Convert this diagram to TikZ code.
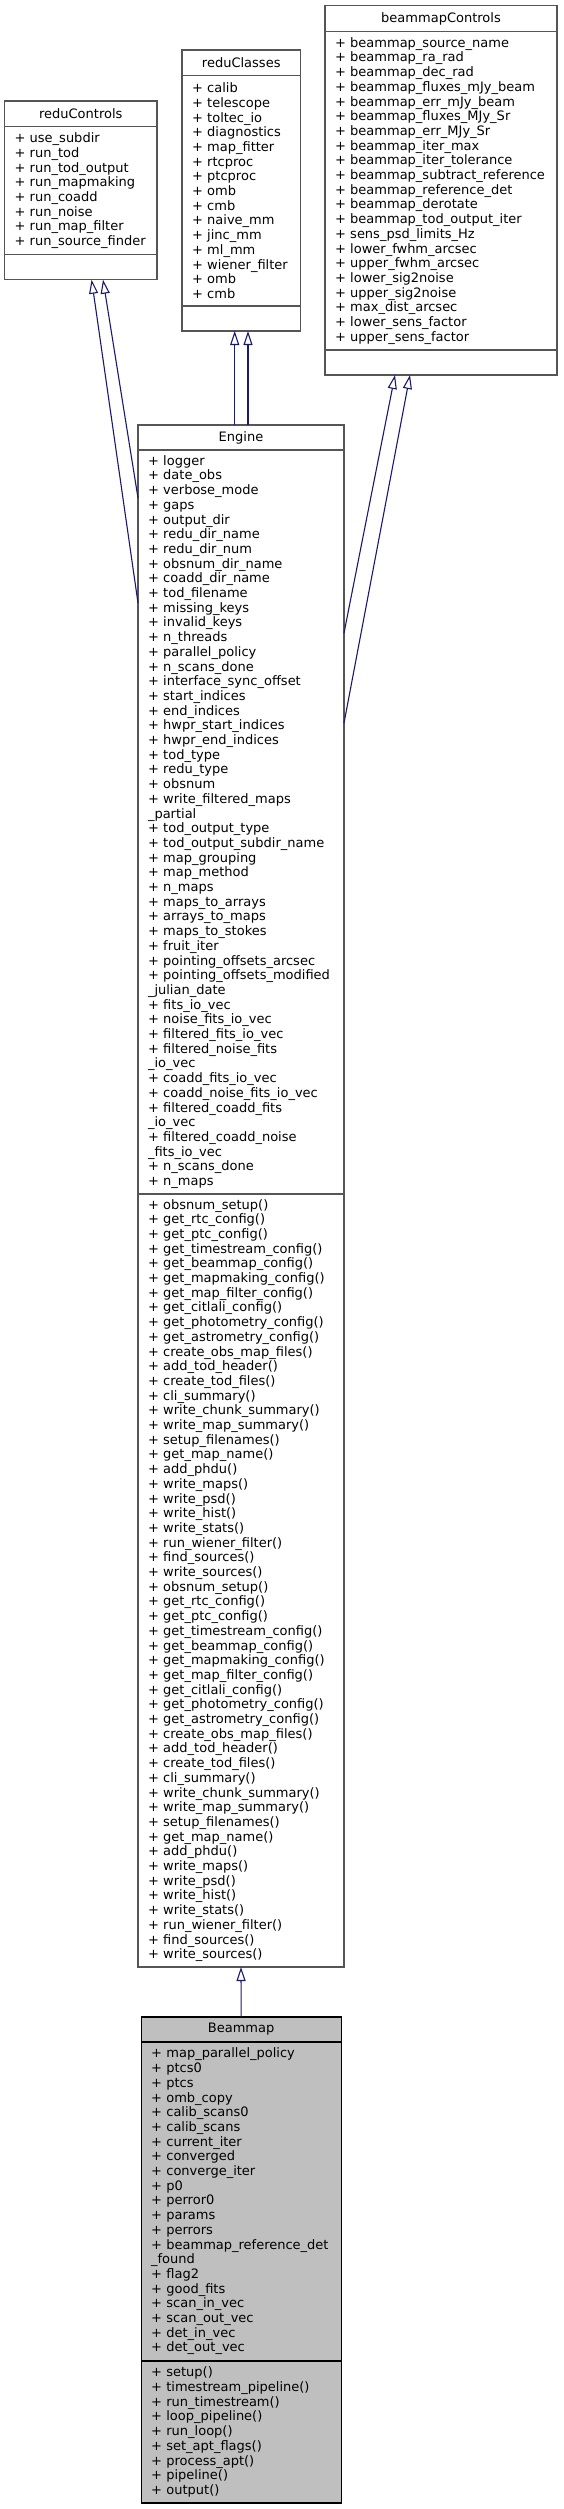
\documentclass[tikz,border=0pt]{standalone}
\usepackage{fontspec}
\setmainfont{DejaVu Sans}
\usepackage{tikz}
\usetikzlibrary{arrows.meta,positioning,calc}
\definecolor{edgeblue}{HTML}{191970}
\definecolor{boxline}{HTML}{555555}
\definecolor{mainfill}{HTML}{BFBFBF}
\newcommand\engmethods{+ obsnum\_setup()\\+ get\_rtc\_config()\\+ get\_ptc\_config()\\+ get\_timestream\_config()\\+ get\_beammap\_config()\\+ get\_mapmaking\_config()\\+ get\_map\_filter\_config()\\+ get\_citlali\_config()\\+ get\_photometry\_config()\\+ get\_astrometry\_config()\\+ create\_obs\_map\_files()\\+ add\_tod\_header()\\+ create\_tod\_files()\\+ cli\_summary()\\+ write\_chunk\_summary()\\+ write\_map\_summary()\\+ setup\_filenames()\\+ get\_map\_name()\\+ add\_phdu()\\+ write\_maps()\\+ write\_psd()\\+ write\_hist()\\+ write\_stats()\\+ run\_wiener\_filter()\\+ find\_sources()\\+ write\_sources()}

\begin{document}
\begin{tikzpicture}[x=1pt, y=-1pt, >={Triangle[open,length=14pt,width=9pt]},
                node distance=0pt,
                every node/.style={font=\fontsize{13}{14.7}\selectfont, outer sep=0pt},
                class head/.style={draw=boxline, line width=1.1pt, fill=white, anchor=north, inner sep=0pt, minimum height=25pt},
                members/.style={draw=boxline, line width=1.1pt, fill=white, align=left, inner xsep=10pt, inner ysep=0pt},
                main class/.style={draw=black, fill=mainfill},
                inherit/.style={->, draw=edgeblue, line width=1.1pt}]

  \useasboundingbox (0,0) rectangle (563,2509);

  \node[class head, minimum width=152.5pt, minimum height=25.7pt] (ctrl) at (80.75,101) {reduControls};
  \node[members, text width=132.5pt, minimum height=128pt, below=of ctrl] (ctrlA)
    {+ use\_subdir\\+ run\_tod\\+ run\_tod\_output\\+ run\_mapmaking\\+ run\_coadd\\+ run\_noise\\+ run\_map\_filter\\+ run\_source\_finder};
  \node[members, text width=132.5pt, minimum height=25pt, below=of ctrlA] (ctrlM) {};

  \node[class head, minimum width=118.5pt, minimum height=25.3pt] (cls) at (241.25,50) {reduClasses};
  \node[members, text width=98.5pt, minimum height=230.7pt, below=of cls] (clsA)
    {+ calib\\+ telescope\\+ toltec\_io\\+ diagnostics\\+ map\_fitter\\+ rtcproc\\+ ptcproc\\+ omb\\+ cmb\\+ naive\_mm\\+ jinc\_mm\\+ ml\_mm\\+ wiener\_filter\\+ omb\\+ cmb};
  \node[members, text width=98.5pt, minimum height=25pt, below=of clsA] (clsM) {};

  \node[class head, minimum width=232pt, minimum height=26pt] (bmc) at (441,5.7) {beammapControls};
  \node[members, text width=212pt, minimum height=318.3pt, below=of bmc] (bmcA)
    {+ beammap\_source\_name\\+ beammap\_ra\_rad\\+ beammap\_dec\_rad\\+ beammap\_fluxes\_mJy\_beam\\+ beammap\_err\_mJy\_beam\\+ beammap\_fluxes\_MJy\_Sr\\+ beammap\_err\_MJy\_Sr\\+ beammap\_iter\_max\\+ beammap\_iter\_tolerance\\+ beammap\_subtract\_reference\\+ beammap\_reference\_det\\+ beammap\_derotate\\+ beammap\_tod\_output\_iter\\+ sens\_psd\_limits\_Hz\\+ lower\_fwhm\_arcsec\\+ upper\_fwhm\_arcsec\\+ lower\_sig2noise\\+ upper\_sig2noise\\+ max\_dist\_arcsec\\+ lower\_sens\_factor\\+ upper\_sens\_factor};
  \node[members, text width=212pt, minimum height=25pt, below=of bmcA] (bmcM) {};

  \node[class head, minimum width=206pt] (eng) at (241,425) {Engine};
  \node[members, text width=186pt, minimum height=744pt, below=of eng] (engA)
    {+ logger\\+ date\_obs\\+ verbose\_mode\\+ gaps\\+ output\_dir\\+ redu\_dir\_name\\+ redu\_dir\_num\\+ obsnum\_dir\_name\\+ coadd\_dir\_name\\+ tod\_filename\\+ missing\_keys\\+ invalid\_keys\\+ n\_threads\\+ parallel\_policy\\+ n\_scans\_done\\+ interface\_sync\_offset\\+ start\_indices\\+ end\_indices\\+ hwpr\_start\_indices\\+ hwpr\_end\_indices\\+ tod\_type\\+ redu\_type\\+ obsnum\\+ write\_filtered\_maps\\\_partial\\+ tod\_output\_type\\+ tod\_output\_subdir\_name\\+ map\_grouping\\+ map\_method\\+ n\_maps\\+ maps\_to\_arrays\\+ arrays\_to\_maps\\+ maps\_to\_stokes\\+ fruit\_iter\\+ pointing\_offsets\_arcsec\\+ pointing\_offsets\_modified\\\_julian\_date\\+ fits\_io\_vec\\+ noise\_fits\_io\_vec\\+ filtered\_fits\_io\_vec\\+ filtered\_noise\_fits\\\_io\_vec\\+ coadd\_fits\_io\_vec\\+ coadd\_noise\_fits\_io\_vec\\+ filtered\_coadd\_fits\\\_io\_vec\\+ filtered\_coadd\_noise\\\_fits\_io\_vec\\+ n\_scans\_done\\+ n\_maps};
  \node[members, text width=186pt, minimum height=773pt, below=of engA] (engM) {\engmethods\\\engmethods};

  \node[class head, main class, minimum width=200pt] (bm) at (241.15,2017) {Beammap};
  \node[members, main class, text width=180pt, minimum height=319pt, below=of bm] (bmA)
    {+ map\_parallel\_policy\\+ ptcs0\\+ ptcs\\+ omb\_copy\\+ calib\_scans0\\+ calib\_scans\\+ current\_iter\\+ converged\\+ converge\_iter\\+ p0\\+ perror0\\+ params\\+ perrors\\+ beammap\_reference\_det\\\_found\\+ flag2\\+ good\_fits\\+ scan\_in\_vec\\+ scan\_out\_vec\\+ det\_in\_vec\\+ det\_out\_vec};
  \node[members, main class, text width=180pt, minimum height=142pt, below=of bmA] (bmM)
    {+ setup()\\+ timestream\_pipeline()\\+ run\_timestream()\\+ loop\_pipeline()\\+ run\_loop()\\+ set\_apt\_flags()\\+ process\_apt()\\+ pipeline()\\+ output()};

  \draw[inherit] ($(engA.north west)+(0,153)$) -- ($(ctrlM.south)+(10.85,0)$);
  \draw[inherit] ($(engA.north west)+(0,48)$) -- ($(ctrlM.south)+(22.25,0)$);
  \draw[inherit] ($(eng.north)+(-6.3,0)$) -- ($(clsM.south)+(-6.55,0)$);
  \draw[inherit] ($(eng.north)+(7,0)$) -- ($(clsM.south)+(6.75,0)$);
  \draw[inherit] ($(engA.north east)+(0,183)$) -- ($(bmcM.south)+(-46,0)$);
  \draw[inherit] ($(engA.north east)+(0,273)$) -- ($(bmcM.south)+(-31,0)$);
  \draw[inherit] (bm.north) -- (engM.south);
\end{tikzpicture}
\end{document}
